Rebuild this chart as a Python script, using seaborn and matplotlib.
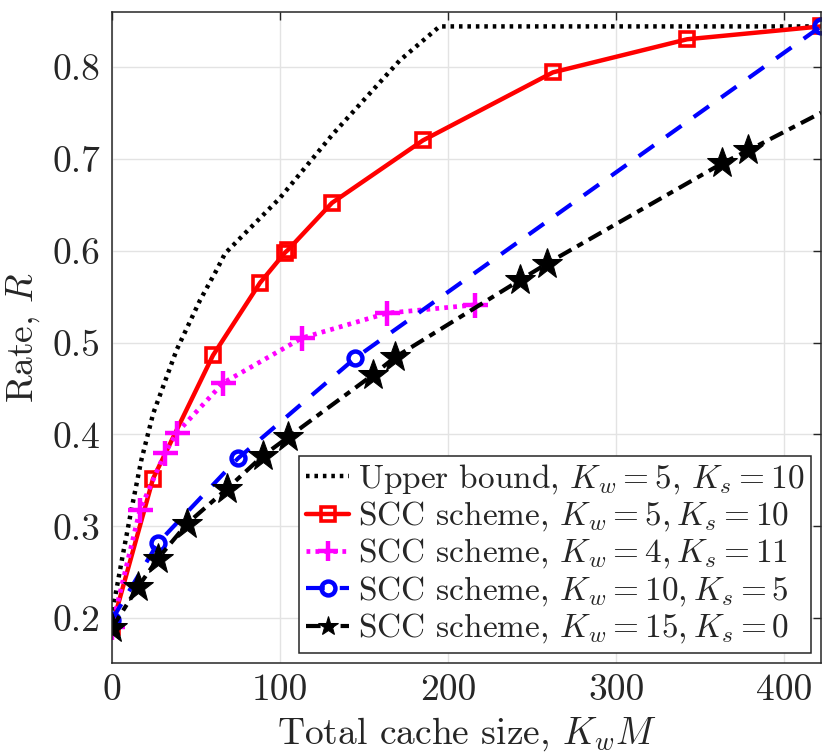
import numpy as np
import pandas as pd
import matplotlib
matplotlib.use("Agg")
import matplotlib.pyplot as plt
import seaborn as sns

# ---- data ----
ub_x = [0, 1, 6, 11.7, 17.6, 24.7, 38.6, 52.5, 62.4, 67.4, 99.9, 131.6, 171.3, 195, 422]
ub_y = [0.19, 0.213, 0.263, 0.318, 0.372, 0.423, 0.492, 0.546, 0.579, 0.597, 0.657, 0.727, 0.807, 0.844, 0.844]

red_x = [0, 24.6, 60.2, 88.2, 103.1, 104.9, 131, 185.1, 262.4, 342.2, 421.8]
red_y = [0.19, 0.352, 0.486, 0.565, 0.598, 0.601, 0.652, 0.720, 0.794, 0.830, 0.844]

mag_x = [0, 16.8, 31.7, 38.8, 66.2, 113.2, 163.7, 216]
mag_y = [0.19, 0.318, 0.380, 0.402, 0.456, 0.505, 0.532, 0.541]

blue_x = [0, 27.5, 75.1, 144.7, 421.8]
blue_y = [0.198, 0.282, 0.374, 0.483, 0.844]

blk_x = [0, 15.6, 27.5, 44.8, 68.6, 90, 104.9, 155.4, 168.5, 242.8, 258.9, 363, 378.5, 421.8]
blk_y = [0.189, 0.234, 0.265, 0.303, 0.341, 0.377, 0.397, 0.465, 0.484, 0.568, 0.586, 0.695, 0.709, 0.750]

labels = [r"Upper bound, $K_w=5$, $K_s=10$",
          r"SCC scheme, $K_w=5,K_s=10$",
          r"SCC scheme, $K_w=4,K_s=11$",
          r"SCC scheme, $K_w=10,K_s=5$",
          r"SCC scheme, $K_w=15,K_s=0$"]

x_ticks = [0, 100, 200, 300, 400]
y_ticks = [0.2, 0.3, 0.4, 0.5, 0.6, 0.7, 0.8]

sns.set_theme(style="whitegrid")
plt.rcParams['font.family'] = 'serif'
plt.rcParams['font.serif'] = ['cmr10', 'DejaVu Serif']
plt.rcParams['mathtext.fontset'] = 'cm'
plt.rcParams['axes.formatter.use_mathtext'] = True

fig = plt.figure(figsize=(8.27, 7.55), dpi=100)
ax = fig.add_axes([111.7/827, 1-662.7/755, (821-111.7)/827, (662.7-11.7)/755])

sns.lineplot(x=ub_x, y=ub_y, ax=ax, color='black', lw=3.2, dashes=False,
             sort=False, estimator=None, label=labels[0], linestyle=(0, (0.8, 1.1)))
sns.lineplot(x=red_x, y=red_y, ax=ax, color='red', lw=3.2, sort=False, estimator=None,
             marker='s', markersize=10, markerfacecolor='none', markeredgecolor='red',
             markeredgewidth=2.6, label=labels[1])
sns.lineplot(x=mag_x, y=mag_y, ax=ax, color='magenta', lw=3.4, sort=False, estimator=None,
             marker='+', markersize=18, markeredgewidth=3.2, markeredgecolor='magenta',
             markerfacecolor='magenta', label=labels[2],
             linestyle=(0, (0.8, 1.1)))
sns.lineplot(x=blue_x, y=blue_y, ax=ax, color='blue', lw=3.0, sort=False, estimator=None,
             marker='o', markersize=10, markerfacecolor='none', markeredgecolor='blue',
             markeredgewidth=3.2, label=labels[3], linestyle=(0, (4.5, 3.6)))
sns.lineplot(x=blk_x, y=blk_y, ax=ax, color='black', lw=3.0, sort=False, estimator=None,
             marker='*', markersize=23, markerfacecolor='black', markeredgecolor='black',
             markevery=list(range(len(blk_x) - 1)), label=labels[4],
             linestyle=(0, (3.5, 1.6, 1.6, 1.6)))

ax.set_xlim(0, 421.8)
ax.set_ylim(0.1517, 0.86)
ax.set_xticks(x_ticks)
ax.set_yticks(y_ticks)
ax.set_xticklabels([str(v) for v in x_ticks])
ax.set_yticklabels([f"{v:.1f}" for v in y_ticks])
ax.tick_params(axis='both', which='both', direction='in', length=6, width=1,
               top=True, right=True, labelsize=27, colors='#262626', pad=8)
for lab in ax.get_xticklabels() + ax.get_yticklabels():
    lab.set_color('#262626')
ax.grid(True, color='#e3e3e3', lw=1)
for s in ax.spines.values():
    s.set_color('#262626')
    s.set_linewidth(1.1)
ax.set_facecolor('white')

ax.set_xlabel(r"Total cache size, $K_wM$", fontsize=27, color='#262626', labelpad=6)
ax.set_ylabel(r"Rate, $R$", fontsize=27, color='#262626', labelpad=8)

leg = ax.legend(loc='lower right', fontsize=24, frameon=True, fancybox=False,
                framealpha=1, edgecolor='#262626', handlelength=1.3,
                handletextpad=0.25, borderpad=0.2, labelspacing=0.1,
                borderaxespad=0.3)
leg.get_frame().set_linewidth(1.1)
for h in leg.legend_handles:
    if hasattr(h, 'set_markersize'):
        h.set_markersize(min(h.get_markersize(), 15))

fig.savefig("out.png", dpi=100)
